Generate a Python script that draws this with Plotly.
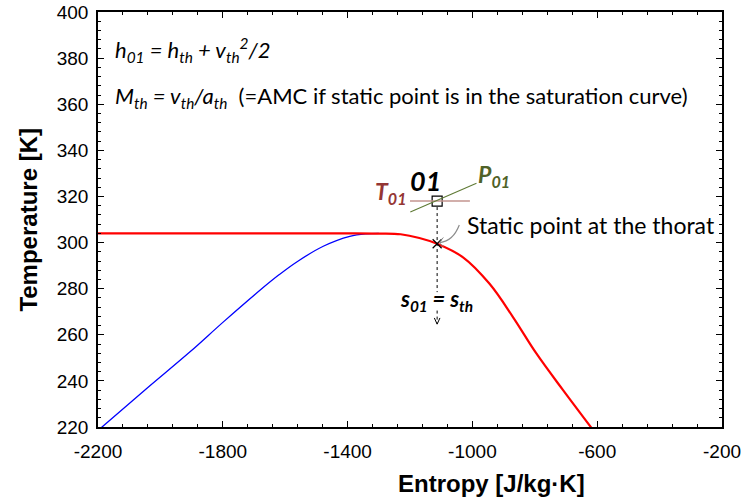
import plotly.graph_objects as go

# ---- data ----
# saturated liquid branch (blue)
entropy_liquid = [-2200, -2043, -1905, -1798, -1681, -1620, -1563, -1478, -1393, -1340, -1300]
temp_liquid = [218.5, 236.8, 252.6, 265.6, 279.3, 286.0, 291.6, 298.4, 302.7, 303.8, 304.0]
# saturated vapour branch (red)
entropy_vapor = [-2200, -1800, -1400, -1297, -1230, -1170, -1113, -1030, -945, -870, -795, -710, -615]
temp_vapor = [304.0, 304.0, 304.0, 303.9, 303.6, 302.0, 299.5, 293.6, 282.1, 267.7, 251.9, 236.1, 219.0]

# throat static point and total (01) point
s_th = -1113
T_th = 299.5
T_01 = 318.0

x_ticks = [-2200, -1800, -1400, -1000, -600, -200]
y_ticks = [220, 240, 260, 280, 300, 320, 340, 360, 380, 400]

TICKFONT = dict(family="Liberation Sans, Arial, sans-serif", size=19, color="black")
TXT = "Lato, 'Open Sans', sans-serif"

fig = go.Figure()
fig.add_trace(go.Scatter(x=entropy_liquid, y=temp_liquid, mode="lines",
                         line=dict(color="#0000ff", width=1.3, shape="spline", smoothing=1.0),
                         hoverinfo="skip"))
fig.add_trace(go.Scatter(x=entropy_vapor, y=temp_vapor, mode="lines",
                         line=dict(color="#ff0000", width=2.2, shape="spline", smoothing=1.0),
                         hoverinfo="skip"))
# dotted vertical isentrope
fig.add_trace(go.Scatter(x=[s_th, s_th], y=[T_01, 278.5], mode="lines",
                         line=dict(color="black", width=1, dash="dot"), hoverinfo="skip"))
fig.add_trace(go.Scatter(x=[s_th, s_th], y=[270.5, 264.8], mode="lines",
                         line=dict(color="black", width=1, dash="dot"), hoverinfo="skip"))
# static point marker
fig.add_trace(go.Scatter(x=[s_th], y=[T_th], mode="markers",
                         marker=dict(symbol="x-thin", size=9, line=dict(color="black", width=1.2)),
                         hoverinfo="skip"))

shapes = [
    # T01 horizontal line
    dict(type="line", xref="x", yref="y", x0=-1200, x1=-1008, y0=T_01, y1=T_01,
         line=dict(color="#c3958f", width=1.6)),
    # P01 line
    dict(type="line", xref="x", yref="y", x0=-1199, x1=-987, y0=313.3, y1=325.7,
         line=dict(color="#5f7a35", width=1.1)),
    # gray curved leader to the static point
    dict(type="path", xref="x", yref="y",
         path="M -1042,307.6 Q -1062,300.6 -1104,300.0",
         line=dict(color="#8c8c8c", width=1.2)),
    dict(type="path", xref="x", yref="y",
         path="M -1093,302.2 L -1106,300.0 L -1094,298.3",
         line=dict(color="#8c8c8c", width=1.0)),
    # open arrow head of the dotted line
    dict(type="path", xref="x", yref="y",
         path="M -1122,267.3 L -1113,264.6 L -1104,267.3",
         line=dict(color="black", width=1.0)),
]
fig.add_trace(go.Scatter(x=[s_th], y=[T_01], mode="markers",
                         marker=dict(symbol="square", size=10, color="white",
                                     line=dict(color="black", width=1.2)),
                         hoverinfo="skip"))

annotations = [
    dict(xref="x", yref="y", x=-2152, y=383.5, xanchor="left", yanchor="middle", showarrow=False,
         text="<i>h<sub>01</sub> = h<sub>th</sub> + v<sub>th</sub><sup>2</sup>/2</i>",
         font=dict(family=TXT, size=22, color="black")),
    dict(xref="x", yref="y", x=-2152, y=363.1, xanchor="left", yanchor="middle", showarrow=False,
         text="<i>M<sub>th</sub> = v<sub>th</sub>/a<sub>th</sub></i>\u00a0\u00a0(=AMC if static point is in the saturation curve)",
         font=dict(family=TXT, size=22, color="black")),
    dict(xref="x", yref="y", x=-1024, y=307.6, xanchor="left", yanchor="middle", showarrow=False,
         text="Static point at the thorat", font=dict(family=TXT, size=23, color="black")),
    dict(xref="x", yref="y", x=-1116, y=275.1, xanchor="center", yanchor="middle", showarrow=False,
         text="<b><i>s<sub>01</sub> = s<sub>th</sub></i></b>", font=dict(family=TXT, size=22, color="black")),
    dict(xref="x", yref="y", x=-1149, y=327.1, xanchor="center", yanchor="middle", showarrow=False,
         text="<b><i>01</i></b>", font=dict(family=TXT, size=27, color="black")),
    dict(xref="x", yref="y", x=-1261, y=321.5, xanchor="center", yanchor="middle", showarrow=False,
         text="<b><i>T<sub>01</sub></i></b>", font=dict(family=TXT, size=23, color="#943634")),
    dict(xref="x", yref="y", x=-931, y=329.3, xanchor="center", yanchor="middle", showarrow=False,
         text="<b><i>P<sub>01</sub></i></b>", font=dict(family=TXT, size=23, color="#4f6228")),
    # axis titles
    dict(xref="paper", yref="paper", x=0.631, y=-0.135, xanchor="center", yanchor="middle",
         showarrow=False, text="<b>Entropy [J/kg·K]</b>",
         font=dict(family="Liberation Sans, Arial, sans-serif", size=24, color="black")),
    dict(xref="paper", yref="paper", x=-0.112, y=0.5, xanchor="center", yanchor="middle",
         showarrow=False, textangle=-90, text="<b>Temperature [K]</b>",
         font=dict(family="Liberation Sans, Arial, sans-serif", size=24, color="black")),
]

axis_common = dict(showgrid=False, zeroline=False, showline=True, linecolor="black", linewidth=1.5,
                   mirror="ticks", ticks="inside", ticklen=6, tickwidth=1.2, tickcolor="black",
                   tickfont=TICKFONT, automargin=False, ticklabeloverflow="allow")

fig.update_layout(
    width=744, height=503,
    margin=dict(l=98, r=22, t=12, b=76, autoexpand=False),
    paper_bgcolor="white", plot_bgcolor="white",
    showlegend=False,
    shapes=shapes, annotations=annotations,
    xaxis=dict(range=[-2200, -200], tickvals=x_ticks, ticktext=[str(v) for v in x_ticks],
               minor=dict(dtick=80, tick0=-2200, ticks="inside", ticklen=3.5, tickcolor="black", tickwidth=1),
               ticklabelstandoff=6, **axis_common),
    yaxis=dict(range=[220, 400], tickvals=y_ticks, ticktext=[str(v) for v in y_ticks],
               minor=dict(dtick=4, tick0=220, ticks="inside", ticklen=3.5, tickcolor="black", tickwidth=1),
               ticklabelstandoff=4, **axis_common),
)

# remove the default 8 px page margin so the 744x503 figure fills the window exactly
fig.write_html("out.html", config={"displayModeBar": False},
               post_script="document.body.style.margin='0';")
